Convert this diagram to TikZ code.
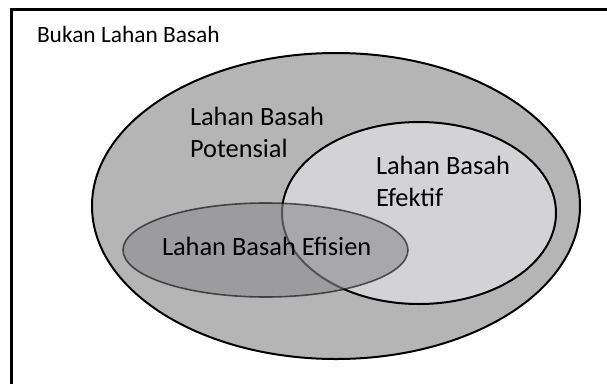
\documentclass[tikz,border=0pt]{standalone}
\usepackage{fontspec}
\setmainfont{Carlito}
\begin{document}
\begin{tikzpicture}[x=1pt,y=-1pt,
  lbl/.style={inner sep=0pt,outer sep=0pt,align=left,anchor=base west,font=\fontsize{26.4}{32}\selectfont},
  outer/.style={draw=black,line width=2pt,fill=bigfill},
  eff/.style={draw=black,line width=2pt,fill=efffill},
  efis/.style={draw=black,line width=1.6pt,fill=efisfill,opacity=0.6}]
\definecolor{bigfill}{RGB}{181,181,182}
\definecolor{efffill}{RGB}{211,211,213}
\definecolor{efisfill}{RGB}{140,140,142}
\useasboundingbox (0,0) rectangle (607,383);
\draw[line width=3pt] (11,400) -- (11,9.5) -- (620,9.5);
\path[outer] (336,206) ellipse [x radius=244, y radius=153];
\path[eff] (419,213) ellipse [x radius=137, y radius=91];
\path[efis] (265.5,250) ellipse [x radius=142.5, y radius=47];
\node[lbl,font=\fontsize{23.4}{32}\selectfont] (bukan) at (37,42) {Bukan Lahan Basah};
\node[lbl] (pot) at (190,157) {Lahan Basah\\Potensial};
\node[lbl] (efk) at (376,206) {Lahan Basah\\Efektif};
\node[lbl] (efs) at (162,255) {Lahan Basah Efisien};
\end{tikzpicture}
\end{document}
